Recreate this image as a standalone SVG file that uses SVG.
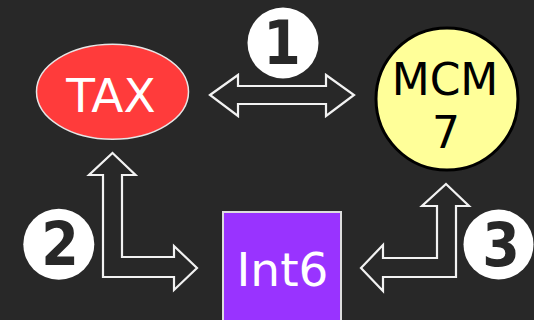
<svg xmlns="http://www.w3.org/2000/svg" width="534" height="320" viewBox="0 0 534 320">
<style>
.arrow{fill:#282828;stroke:#f2f2f2;stroke-width:2.2;stroke-linejoin:miter}
.lbl{font-family:"DejaVu Sans",Verdana,sans-serif;text-anchor:middle}
.num{font-family:"DejaVu Sans Condensed","DejaVu Sans",sans-serif;font-stretch:condensed;font-weight:bold;font-size:60px;text-anchor:middle;fill:#282828}
.badge{fill:#ffffff}
</style>
<rect width="534" height="320" fill="#282828"/>
<g id="connectors">
<path class="arrow" d="M210,95 L238,75 L238,86 L326,86 L326,75 L354,95 L326,116 L326,104 L238,104 L238,116 Z"/>
<path class="arrow" d="M112.5,153 L135.5,175 L122,175 L122,257 L174,257 L174,246 L197,268 L174,290 L174,277 L103,277 L103,175 L89,175 Z"/>
<path class="arrow" d="M446,184 L469,206 L456,206 L456,277 L383,277 L383,291 L361,268 L383,245 L383,258 L437,258 L437,206 L422,206 Z"/>
</g>
<g id="badge1"><circle class="badge" cx="283" cy="43" r="35.5"/><text class="num" x="282" y="64">1</text></g>
<g id="badge2"><circle class="badge" cx="58.8" cy="244.3" r="35.5"/><text class="num" x="60" y="265">2</text></g>
<g id="badge3"><circle class="badge" cx="498.5" cy="244.5" r="35"/><text class="num" x="501" y="266">3</text></g>
<g id="tax"><ellipse cx="112.5" cy="91.7" rx="76" ry="47.5" fill="#ff3b3b" stroke="#e6e6e6" stroke-width="1.5"/><text class="lbl" x="111" y="112" font-size="47" fill="#ffffff">TAX</text></g>
<g id="mcm"><circle cx="447" cy="99" r="71" fill="#ffff99" stroke="#000000" stroke-width="3"/><text class="lbl" x="445" y="95" font-size="44" fill="#000000">MCM</text><text class="lbl" x="446" y="148" font-size="44" fill="#000000">7</text></g>
<g id="int6"><rect x="223" y="212" width="118" height="120" fill="#9933ff" stroke="#dddddd" stroke-width="2"/><text class="lbl" x="282.5" y="286" font-size="47" fill="#ffffff">Int6</text></g>
</svg>
